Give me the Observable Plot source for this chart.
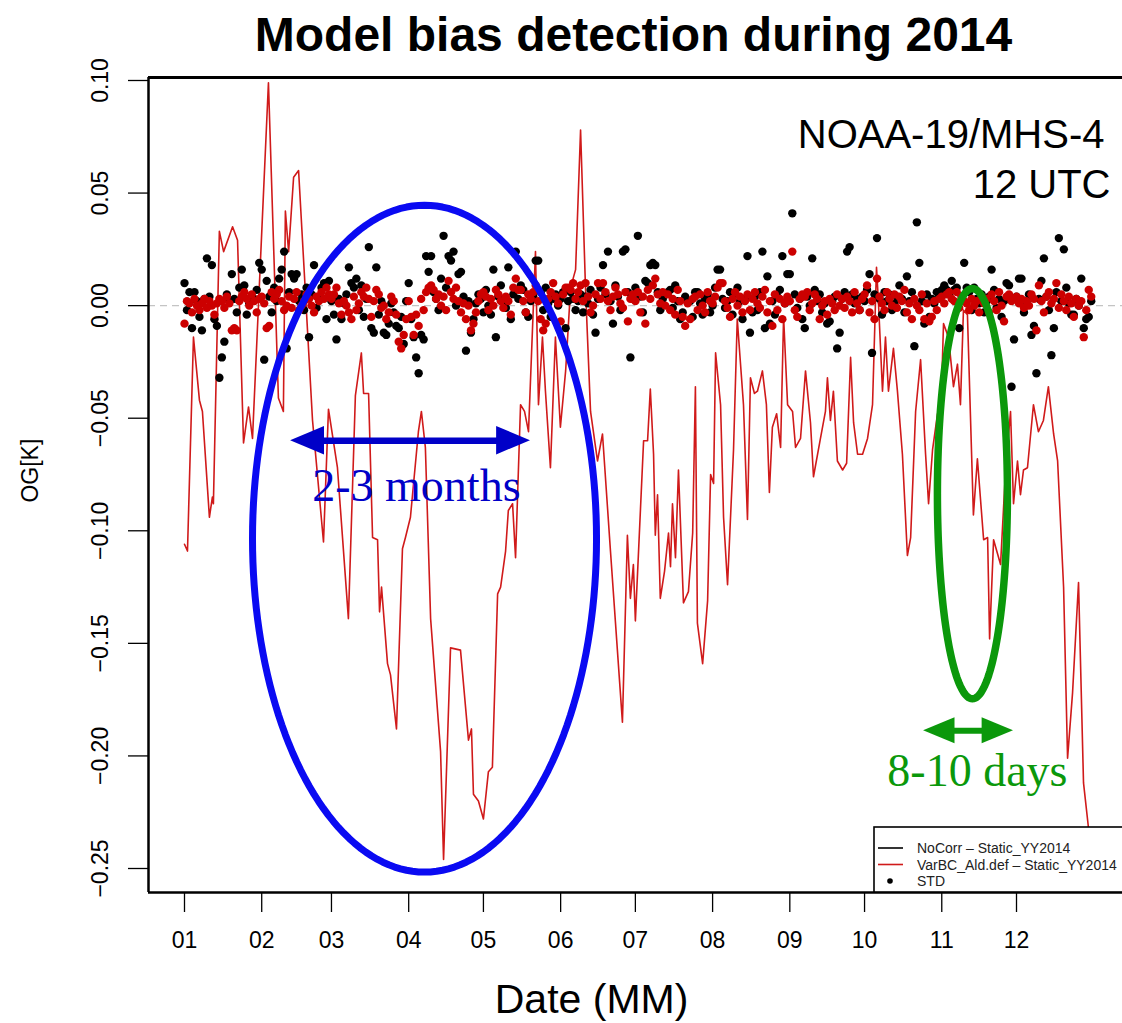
<!DOCTYPE html>
<html><head><meta charset="utf-8">
<script src="https://cdn.jsdelivr.net/npm/d3@7"></script>
<script src="https://cdn.jsdelivr.net/npm/@observablehq/plot@0.6"></script>
<style>html,body{margin:0;padding:0;background:#fff;overflow:hidden}</style>
</head><body><div id="chart"></div>
<script>
// ---------------- DATA ----------------
const xTickLabels = ["01","02","03","04","05","06","07","08","09","10","11","12"];
const yTicks = [-0.25,-0.20,-0.15,-0.10,-0.05,0.00,0.05,0.10];

// VarBC_Ald.def - Static (red line): [day of 2014 (0 = 1 Jan), OG in K]
const redLine = [
 [0,-0.106],[1.2,-0.109],[3.6,-0.014],[6,-0.042],[7.2,-0.047],[10,-0.094],[11.2,-0.085],[11.6,-0.088],
 [14,0.033],[15.7,0.024],[19.3,0.035],[21.3,0.029],[23.7,-0.061],[25.7,-0.045],[27.3,-0.059],[33.7,0.099],
 [37.7,-0.041],[39.7,-0.047],[40.5,0.042],[41.8,0.024],[43.8,0.057],[45.8,0.060],[51.4,-0.051],[55.8,-0.105],
 [57.8,-0.046],[61.4,-0.072],[65.8,-0.139],[68.6,-0.040],[71,-0.021],[71.9,-0.039],[73.9,-0.039],[75.5,-0.103],
 [77.5,-0.104],[78.3,-0.136],[79.1,-0.125],[81.5,-0.159],[82.7,-0.164],[85.1,-0.188],[87.5,-0.108],[88.7,-0.103],
 [90.7,-0.094],[93.9,-0.056],[95.1,-0.047],[96.7,-0.063],[98.8,-0.139],[102.8,-0.198],[104,-0.246],[106.8,-0.152],
 [110.8,-0.153],[114,-0.193],[115.2,-0.188],[116,-0.217],[118,-0.220],[120,-0.228],[122,-0.207],[123.6,-0.205],
 [125.7,-0.128],[126.9,-0.125],[128.9,-0.109],[130,-0.091],[131.7,-0.088],[132.9,-0.112],[134.9,-0.044],[136.5,-0.047],
 [138.1,-0.056],[140.9,0.024],[142.1,-0.044],[143.7,-0.014],[144.9,-0.038],[146.9,-0.072],[148.9,-0.014],[150.9,-0.054],
 [153,-0.029],[155,0.008],[157,0.016],[159,0.078],[161,0.007],[163,-0.047],[165.8,-0.069],[167.8,-0.057],
 [171,-0.109],[175.8,-0.185],[177.8,-0.102],[179,-0.130],[180.2,-0.115],[181,-0.140],[184.3,-0.060],[185.9,-0.060],
 [187,-0.037],[188.3,-0.066],[189,-0.102],[189.9,-0.084],[191,-0.130],[192.7,-0.118],[194.3,-0.101],[195.1,-0.116],
 [195.9,-0.088],[197.1,-0.112],[198.3,-0.073],[200.3,-0.132],[202.3,-0.127],[204,-0.101],[205.1,-0.036],[205.9,-0.141],
 [208,-0.159],[210,-0.131],[211.2,-0.075],[212.4,-0.079],[213.2,-0.021],[215.2,-0.044],[216.4,-0.094],[218,-0.124],
 [220.4,-0.064],[221.9,-0.006],[224.4,-0.044],[226,-0.095],[227.2,-0.032],[228.8,-0.039],[230,-0.038],[232,-0.029],
 [233.6,-0.044],[234.8,-0.083],[236,-0.054],[237.7,-0.048],[239.3,-0.063],[240.5,-0.005],[242.1,-0.044],[244.1,-0.047],
 [245.3,-0.063],[247.3,-0.059],[249.3,-0.029],[251.3,-0.052],[252.5,-0.076],[255.3,-0.059],[257.3,-0.047],[258.1,-0.032],
 [259.3,-0.051],[260.5,-0.038],[262.1,-0.069],[264.2,-0.073],[265.8,-0.070],[267.4,-0.023],[268.6,-0.052],[270.2,-0.066],
 [272.2,-0.066],[274.2,-0.059],[276.2,-0.044],[277.8,0.017],[278.6,0.001],[280.2,-0.038],[281.4,-0.014],[282.6,-0.038],
 [284.6,-0.019],[286.2,-0.038],[288.2,-0.066],[290.2,-0.111],[291.5,-0.103],[293.5,-0.047],[295.5,-0.024],[297.5,-0.066],
 [298.7,-0.088],[300.3,-0.064],[302.3,-0.048],[303.5,-0.052],[304.7,-0.008],[306.7,-0.014],[308.7,-0.036],[310.3,-0.026],
 [311.5,-0.044],[312.7,-0.002],[314.3,-0.004],[316.7,-0.093],[318.3,-0.068],[320.8,-0.104],[322.4,-0.103],[323.2,-0.148],
 [324.8,-0.104],[327.6,-0.115],[329.6,-0.073],[331.6,-0.047],[332.8,-0.088],[334.4,-0.069],[335.6,-0.084],[336.8,-0.073],
 [338.4,-0.072],[340.8,-0.044],[342.8,-0.056],[344.8,-0.051],[346.8,-0.036],[348.9,-0.057],[350.5,-0.069],[352.9,-0.125],
 [354.5,-0.201],[356.5,-0.172],[358.9,-0.123],[360.9,-0.212],[362.9,-0.232],[364.5,-0.251]
];

// daily points (index = day of 2014), values in mK
const blackDots_mK = [
 10,-2,6,-10,6,2,-5,-11,3,21, 4,18,-6,-9,-32,-23,-16,5,2,14, 3,-3,8,16,9,-4,1,3,3,7, 19,
 16,-24,11,4,-3,8,2,12,16,24, -19,6,14,12,14,2,5,-2,8,-14, 5,18,-1,3,8,10,-6,11,
 2,-4,-15,3,-6,1,5,17,10,8, 12,-2,9,-5,3,26,-10,-12,17,-4, 2,-12,-13,-8,1,-3,-9,-10,-5,-17, 2,
 10,-6,-14,-23,-30,-13,-15,22,15,22, 6,3,-2,12,31,8,22,20,24,0, 14,15,4,-20,2,-12,-6,1,5,3,
 -3,7,0,-4,16,-14,4,9,2,-1, 17,-6,5,24,3,9,7,-3,-5,2, 4,20,20,6,-2,8,1,-5,3,5, 0,
 3,6,-10,2,6,3,-2,2,5,-3, 4,1,7,-4,-12,3,8,18,5,24, 2,-8,9,4,-2,24,25,6,-23,3,
 8,31,4,-3,11,10,18,19,18,6, -2,3,5,6,7,-1,9,2,-6,-3, 4,2,2,-5,6,6,1,-4,3,5, -3,
 0,8,16,16,3,-1,2,6,-4,5, 8,2,-6,3,22,-12,-3,4,-2,6, 24,-10,13,-8,2,-4,4,7,22,1, 14,
 14,41,5,-1,3,-6,-10,4,0,21, 7,2,5,-3,1,-8,-7,2,4,-19, -12,3,6,24,26,5,1,3,-2,4,
 2,7,14,-21,5,30,3,-4,6,2, 5,-2,1,4,9,3,-3,13,2,6, -18,37,19,2,-8,5,-5,3,1,6, 4,
 7,9,7,5,11,7,8,-10,4,19, 8,6,-2,8,3,1,5,-3,2,4, 16,7,-1,3,-5,2,10,9,-36,-15,
 4,12,12,-3,2,5,-13,-9,-30,3, 11,21,4,-2,-22,-10,6,30,2,25, 8,1,-4,-4,3,0,12,-10,-6,-5, 2
];
const redDots_mK = [
 -8,2,1,-3,3,0,-2,1,3,-1, 2,0,-4,1,3,2,-1,4,1,-11, -10,-11,2,4,6,3,0,5,2,-3, 3,
 4,1,-10,-9,6,3,5,7,2,-2, 0,4,-1,3,6,-2,0,2,5,3, 0,-3,4,2,6,3,8,5,
 3,5,8,1,-4,2,0,-3,-6,4, -2,1,6,4,8,3,-5,2,7,5, -1,0,-6,-3,4,2,-4,-16,-19,-13, -6,
 2,-5,-13,-4,-9,3,-2,6,8,9, 7,3,5,0,4,-2,11,6,3,8, 2,-3,1,-6,0,-11,-8,-3,2,5,
 6,4,-2,3,0,7,5,2,-1,4, 2,-4,8,12,7,7,2,-3,5,3, 6,9,2,-6,-11,-8,3,6,10,4, 1,
 -7,5,8,8,7,10,3,6,9,2, 10,4,-3,0,5,10,3,10,6,2, -2,4,8,5,1,-1,6,-7,3,5,
 2,6,-3,4,-8,7,3,9,12,5, 1,6,0,5,-2,3,-4,7,2,-5, -9,1,-6,3,4,-2,5,0,-3,6, 2,
 1,4,8,10,10,2,-1,-5,3,6, 0,4,-3,2,5,-2,3,6,1,-1, 4,7,-3,2,-9,5,-2,3,-6,1, 4,
 2,24,-2,-5,3,5,4,6,-2,1, 5,3,-6,0,2,-4,3,1,-2,5, 0,3,-1,4,2,-3,6,1,-2,3,
 5,9,-3,2,-6,12,4,1,-2,6, 3,0,5,-1,4,2,7,-3,1,-6, 3,0,-2,5,-6,1,-7,-5,2,-2, 3,
 4,1,5,6,3,2,6,-1,4,2, 1,-2,3,0,2,-3,4,1,3,-3, 5,2,-2,6,0,-7,4,5,2,3,
 4,1,3,-1,2,0,5,3,-11,9, 2,-3,4,6,1,3,10,-1,5,2, -2,4,1,-5,3,0,2,-14,-2,7, 4
];

const legendLabels = ["NoCorr \u2013 Static_YY2014", "VarBC_Ald.def \u2013 Static_YY2014", "STD"];
const titleText = "Model bias detection during 2014";
const infoLines = ["NOAA-19/MHS-4", "12 UTC"];

// annotations (in data units: days of 2014, K)
const annotEllipses = [
  {cx: 96.35, cy: -0.1035, rx: 69.05, ry: 0.1481, color: "#0a0af2", width: 7},
  {cx: 316.3, cy: -0.0835, rx: 14.05, ry: 0.0911, color: "#0b980b", width: 7.5}
];
const annotArrows = [
  {from: 42.6, to: 138.9, value: -0.0600, color: "#0000c8", width: 6.5, head: 13.6, half: 0.0063},
  {from: 296.7, to: 332.8, value: -0.1888, color: "#0b980b", width: 6, head: 12.6, half: 0.0058}
];
const annotTexts = [
  {day: 93.1, value: -0.0866, text: "2-3 months", color: "#0000c8"},
  {day: 318.3, value: -0.2132, text: "8-10 days", color: "#0b980b"}
];

// ---------------- CHART ----------------
const YEAR0 = Date.UTC(2014, 0, 1);
const dayDate = d => new Date(YEAR0 + d * 864e5);
const monthStarts = d3.range(12).map(m => new Date(Date.UTC(2014, m, 1)));
const fmtY = d3.format(".2f");

const W = 1122, H = 1023, mL = 148, mR = 0, mT = 77, mB = 131;
const yDomain = [-0.26066, 0.10133];
const xDomain = [dayDate(-14.45), dayDate(376.55)];

const ellipsePts = annotEllipses.flatMap((e, k) =>
  d3.range(0, 361, 2).map(a => ({k, x: e.cx + e.rx * Math.cos(a * Math.PI / 180), y: e.cy + e.ry * Math.sin(a * Math.PI / 180)})));

const arrowMarks = annotArrows.flatMap(a => {
  const heads = [
    {z: 0, x: a.from, y1: a.value, y2: a.value}, {z: 0, x: a.from + a.head, y1: a.value - a.half, y2: a.value + a.half},
    {z: 1, x: a.to - a.head, y1: a.value - a.half, y2: a.value + a.half}, {z: 1, x: a.to, y1: a.value, y2: a.value}
  ];
  return [
    Plot.link([a], {x1: d => dayDate(d.from + d.head * 0.9), x2: d => dayDate(d.to - d.head * 0.9), y1: "value", y2: "value", stroke: a.color, strokeWidth: a.width}),
    Plot.areaY(heads, {x: d => dayDate(d.x), y1: "y1", y2: "y2", z: "z", fill: a.color, curve: "linear"})
  ];
});

const chart = Plot.plot({
  width: W, height: H,
  marginLeft: mL, marginRight: mR, marginTop: mT, marginBottom: mB,
  x: {type: "utc", domain: xDomain},
  y: {domain: yDomain},
  style: {fontFamily: "'Liberation Sans', Arial, sans-serif", fontSize: "23px", background: "white", color: "black"},
  marks: [
    Plot.ruleY([0], {stroke: "#c4c4c4", strokeWidth: 1.4, strokeDasharray: "7,5"}),
    Plot.line(redLine, {x: d => dayDate(d[0]), y: d => d[1], stroke: "#d01a1a", strokeWidth: 1.6}),
    Plot.dot(blackDots_mK, {x: (d, i) => dayDate(i), y: d => d / 1000, r: 4.2, fill: "#000"}),
    Plot.dot(redDots_mK, {x: (d, i) => dayDate(i), y: d => d / 1000, r: 4.2, fill: "#cc0000"}),
    ...annotEllipses.map((e, k) => Plot.line(ellipsePts.filter(p => p.k === k), {x: p => dayDate(p.x), y: "y", stroke: e.color, strokeWidth: e.width, curve: "linear"})),
    ...arrowMarks,
    ...annotTexts.map(t => Plot.text([t], {x: d => dayDate(d.day), y: "value", text: "text", fill: t.color, fontFamily: "'Liberation Serif', 'Times New Roman', serif", fontSize: 46, textAnchor: "middle", lineAnchor: "bottom"})),
    Plot.text([infoLines[0]], {frameAnchor: "top-right", text: d => d, dx: -18, dy: 70, textAnchor: "end", lineAnchor: "bottom", fontSize: 40}),
    Plot.text([infoLines[1]], {frameAnchor: "top-right", text: d => d, dx: -12, dy: 120, textAnchor: "end", lineAnchor: "bottom", fontSize: 40}),
    // box (right side lies outside the page)
    Plot.ruleY([yDomain[1]], {strokeWidth: 3}),
    Plot.ruleY([yDomain[0]], {strokeWidth: 2.5}),
    Plot.ruleX([xDomain[0]], {strokeWidth: 2.5}),
    // axes
    Plot.axisX(monthStarts, {tickSize: 20, tickPadding: 19, tickFormat: d => xTickLabels[d.getUTCMonth()], fontSize: 23, label: null, strokeWidth: 1.3}),
    Plot.axisY(yTicks, {tickSize: 20, tickFormat: () => "", label: null, strokeWidth: 1.3}),
    Plot.text(yTicks, {y: d => d, text: d => fmtY(d), frameAnchor: "left", dx: -48, rotate: -90, fontSize: 23, textAnchor: "middle", lineAnchor: "middle"}),
    Plot.text(["OG[K]"], {y: () => -0.0733, text: d => d, frameAnchor: "left", dx: -118, rotate: -90, fontSize: 23, textAnchor: "middle", lineAnchor: "middle"}),
    Plot.text(["Date (MM)"], {x: () => dayDate(163.4), text: d => d, frameAnchor: "bottom", dy: 91, lineAnchor: "top", fontSize: 41}),
    Plot.text([titleText], {x: () => dayDate(180.25), text: d => d, frameAnchor: "top", dy: -27, lineAnchor: "bottom", fontSize: 48, fontWeight: "bold"})
  ]
});

// legend (bottom-right corner of the plot region)
const svg = d3.select(chart);
const lx = W - 248, ly = H - mB - 65;
const lg = svg.append("g").attr("font-family", "'Liberation Sans', Arial, sans-serif").attr("font-size", 14).attr("text-anchor", "start");
lg.append("rect").attr("x", lx).attr("y", ly).attr("width", 300).attr("height", 65).attr("fill", "white").attr("stroke", "black").attr("stroke-width", 1.6);
const legendRows = [{type: "line", color: "#000"}, {type: "line", color: "#d01a1a"}, {type: "dot", color: "#000"}];
legendRows.forEach((r, i) => {
  const yy = ly + 21 + i * 16.5;
  if (r.type === "line") lg.append("line").attr("x1", lx + 4).attr("x2", lx + 29).attr("y1", yy).attr("y2", yy).attr("stroke", r.color).attr("stroke-width", 1.6);
  else lg.append("circle").attr("cx", lx + 16).attr("cy", yy).attr("r", 2.8).attr("fill", r.color);
  lg.append("text").attr("x", lx + 43).attr("y", yy + 5).attr("text-anchor", "start").attr("fill", "#222").text(legendLabels[i]);
});

document.getElementById("chart").appendChild(chart);
</script></body></html>
